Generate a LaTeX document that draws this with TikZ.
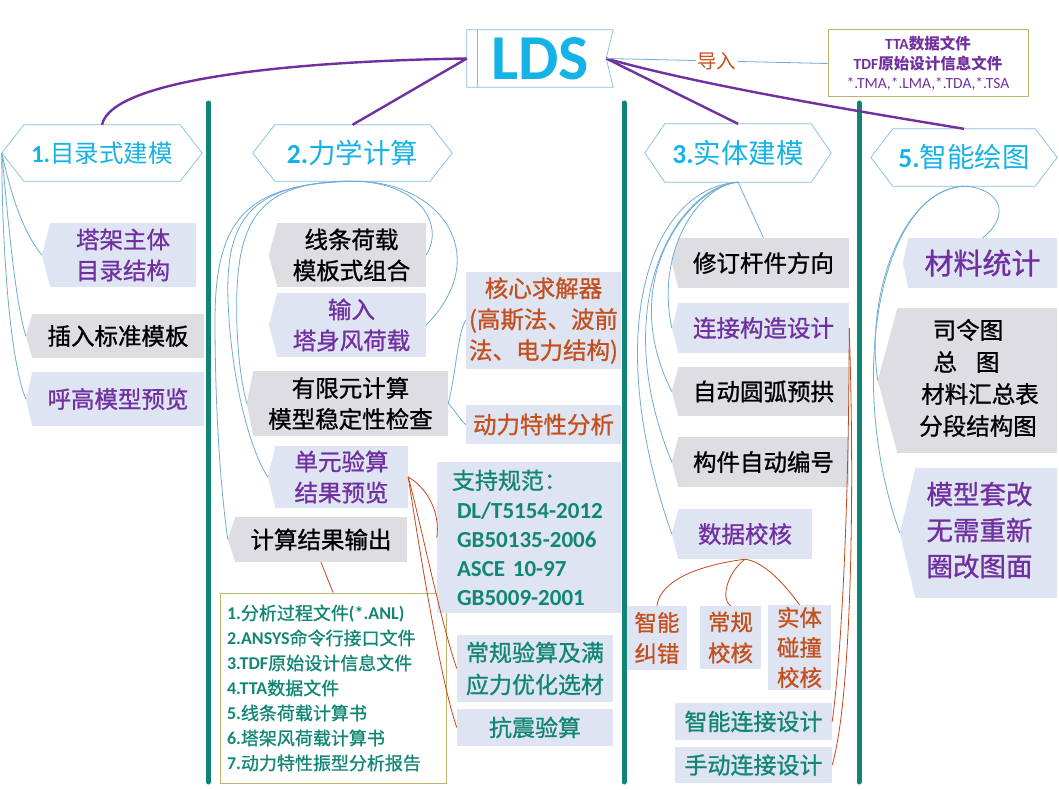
\documentclass[tikz,border=0pt]{standalone}
\usepackage{fontspec}
\setmainfont{Noto Sans CJK SC}
\newfontfamily\cjkb{Noto Sans CJK SC}[FakeBold=1]
\newfontfamily\lat{Carlito}
\usetikzlibrary{calc}
\definecolor{clav}{RGB}{222,228,242}
\definecolor{cgry}{RGB}{221,221,226}
\definecolor{cpur}{RGB}{112,48,160}
\definecolor{ccyan}{RGB}{20,178,230}
\definecolor{cteal}{RGB}{18,134,118}
\definecolor{corg}{RGB}{196,80,30}
\definecolor{cbar}{RGB}{16,132,118}
\definecolor{cconn}{RGB}{110,172,214}
\definecolor{chex}{RGB}{130,190,225}
\definecolor{coli}{RGB}{190,178,110}
\definecolor{cred}{RGB}{196,72,30}
\newcommand\latb[1]{{\lat\bfseries #1}}
\newcommand\notchfill[3]{\fill[#3] ($(#1.north west)+(0.6,0)$) -- ($(#1.west)+(-#2,0)$) -- ($(#1.south west)+(0.6,0)$) -- cycle; \coordinate (#1t) at ($(#1.west)+(-#2,0)$);}
\newcommand\hexo[2]{\draw[hexline] (#1.west) -- ($(#1.north west)+(#2,0)$) -- ($(#1.north east)+(-#2,0)$) -- (#1.east) -- ($(#1.south east)+(-#2,0)$) -- ($(#1.south west)+(#2,0)$) -- cycle;}
\tikzset{
 bl/.style={fill=clav, inner sep=0pt, align=center},
 bg/.style={fill=cgry, inner sep=0pt, align=center, text=black},
 tpur/.style={text=cpur}, tteal/.style={text=cteal}, torg/.style={text=corg},
 f23/.style={font=\cjkb\fontsize{23.5}{31}\selectfont},
 hexline/.style={draw=chex, line width=0.7pt},
 hexnode/.style={inner sep=0pt, text=ccyan},
 conn/.style={draw=cconn, line width=0.8pt},
 rconn/.style={draw=cred, line width=0.8pt},
 pconn/.style={draw=cpur, line width=2.4pt},
 sepbar/.style={draw=cbar, line width=5pt, line cap=round},
 wh/.style 2 args={minimum width=#1, minimum height=#2}
}
\begin{document}
\begin{tikzpicture}[x=1pt,y=-1pt]
\useasboundingbox[fill=white] (0,0) rectangle (1059,789);

% separator bars
\draw[sepbar] (208.5,103) -- (208.5,782);
\draw[sepbar] (624,103) -- (624,782);
\draw[sepbar] (859,103) -- (859,782);

% LDS
\node[inner sep=0pt, wh={146}{57}, text=ccyan, font=\lat\bfseries\fontsize{64}{64}\selectfont] (lds) at (540,58.5) {LDS};
\draw[hexline] (lds.north west) -- (lds.north east) -- ($(lds.east)+(-7,0)$) -- (lds.south east) -- (lds.south west) -- cycle;
\draw[hexline] ($(lds.north west)+(11,0)$) -- ($(lds.south west)+(11,0)$);
\coordinate (ldsr) at ($(lds.east)+(-7,0)$);

% TTA box
\node[draw=coli, line width=1pt, fill=white, wh={200}{67}, inner sep=0pt, align=center, text=cpur, font=\fontsize{15.5}{19.5}\selectfont] (tta) at (928,63.5)
 {{\bfseries\latb{TTA}数据文件}\\{\bfseries\latb{TDF}原始设计信息文件}\\{\lat *.TMA,*.LMA,*.TDA,*.TSA}};

% headers
\node[hexnode, wh={200}{56}, font=\fontsize{24.5}{28}\selectfont] (h1) at (102,153) {\latb{1.}目录式建模};
\hexo{h1}{22}
\node[hexnode, wh={199}{56}, font=\fontsize{27.5}{30}\selectfont] (h2) at (352.5,153) {\latb{2.}力学计算};
\hexo{h2}{22}
\node[hexnode, wh={186}{58}, font=\fontsize{27.5}{30}\selectfont] (h3) at (738,153) {\latb{3.}实体建模};
\hexo{h3}{20}
\node[hexnode, wh={186}{57}, font=\fontsize{27.5}{30}\selectfont] (h5) at (964,157.5) {\latb{5.}智能绘图};
\hexo{h5}{22}

% column 1
\node[bl,tpur,f23,wh={146}{64}] (c1a) at (123,255) {塔架主体\\目录结构};
\notchfill{c1a}{8}{clav}
\node[bg,f23,wh={172}{44}] (c1b) at (118,336) {插入标准模板};
\notchfill{c1b}{6}{cgry}
\node[bl,tpur,f23,wh={172}{54}] (c1c) at (118,399) {呼高模型预览};
\notchfill{c1c}{6}{clav}

% column 2
\node[bg,f23,wh={149}{64}] (c2a) at (351.5,255) {线条荷载\\模板式组合};
\notchfill{c2a}{8}{cgry}
\node[bl,tpur,f23,wh={149}{64}] (c2b) at (351.5,325) {输入\\塔身风荷载};
\notchfill{c2b}{8}{clav}
\node[bg,f23,wh={195}{65}] (c2c) at (350.5,403.5) {有限元计算\\模型稳定性检查};
\notchfill{c2c}{6}{cgry}
\node[bl,tpur,f23,wh={133}{62}] (c2d) at (341.5,477) {单元验算\\结果预览};
\notchfill{c2d}{7}{clav}
\node[bg,f23,wh={172}{45}] (c2e) at (321,539.5) {计算结果输出};
\notchfill{c2e}{7}{cgry}
\node[draw=coli, line width=1pt, fill=white, wh={226}{190}, inner sep=0pt, text width=212pt, align=left, text=cteal, font=\cjkb\fontsize{18}{25}\selectfont] (out) at (333,688)
 {\latb{1.}分析过程文件\latb{(*.ANL)}\\\latb{2.ANSYS}命令行接口文件\\\latb{3.TDF}原始设计信息文件\\\latb{4.TTA}数据文件\\\latb{5.}线条荷载计算书\\\latb{6.}塔架风荷载计算书\\\latb{7.}动力特性振型分析报告};
\node[bl,torg,f23,wh={155}{97}] (solver) at (543.5,320.5) {核心求解器\\(高斯法、波前\\法、电力结构)};
\node[bl,torg,f23,wh={155}{39}] (dyn) at (543.5,424.5) {动力特性分析};
\node[bl,tteal,wh={184}{151}, text width=160pt, align=left, font=\cjkb\fontsize{23}{29}\selectfont] (std) at (529,537.5)
 {\hspace*{3pt}支持规范：\\\hspace*{8pt}\latb{DL/T5154-2012}\\\hspace*{8pt}\latb{GB50135-2006}\\\hspace*{8pt}\latb{ASCE 10-97}\\\hspace*{8pt}\latb{GB5009-2001}};
\node[bl,tteal,wh={156}{67},font=\cjkb\fontsize{23}{32}\selectfont] (chk) at (535,668.5) {常规验算及满\\应力优化选材};
\node[bl,tteal,wh={156}{37},font=\cjkb\fontsize{23}{30}\selectfont] (eq) at (535,727.5) {抗震验算};

% column 3
\node[bg,f23,wh={171}{50}] (c3a) at (763.5,263) {修订杆件方向};
\notchfill{c3a}{6}{cgry}
\node[bl,tpur,f23,wh={171}{50}] (c3b) at (763.5,328) {连接构造设计};
\notchfill{c3b}{6}{clav}
\node[bg,f23,wh={171}{49}] (c3c) at (763.5,391.5) {自动圆弧预拱};
\notchfill{c3c}{6}{cgry}
\node[bg,f23,wh={171}{50}] (c3d) at (763.5,462) {构件自动编号};
\notchfill{c3d}{6}{cgry}
\node[bl,tpur,f23,wh={134}{50}] (c3e) at (745,534) {数据校核};
\notchfill{c3e}{6}{clav}
\node[bl,torg,wh={60}{64},font=\cjkb\fontsize{22.5}{31}\selectfont] (e1) at (657,638) {智能\\纠错};
\node[bl,torg,wh={61}{63},font=\cjkb\fontsize{22.5}{31}\selectfont] (e2) at (730.5,637.5) {常规\\校核};
\node[bl,torg,wh={63}{85},font=\cjkb\fontsize{22.5}{30}\selectfont] (e3) at (799.5,647.5) {实体\\碰撞\\校核};
\node[bl,tteal,wh={157}{37},font=\cjkb\fontsize{23}{30}\selectfont] (cd1) at (753.5,721.5) {智能连接设计};
\node[bl,tteal,wh={157}{36},font=\cjkb\fontsize{23}{30}\selectfont] (cd2) at (753.5,765) {手动连接设计};

% column 5
\node[bl,tpur,wh={149}{50},font=\cjkb\fontsize{29}{32}\selectfont] (c5a) at (982.5,263) {材料统计};
\notchfill{c5a}{5}{clav}
\node[bg,wh={160}{145},font=\cjkb\fontsize{23.5}{32}\selectfont] (c5b) at (977,380.5)
 {\begin{tabular}{@{}c@{}}司令图\hspace*{18pt}\\总\hspace{19pt}图\hspace*{21pt}\\材料汇总表\hspace*{-6pt}\\分段结构图\hspace*{-2pt}\end{tabular}};
\notchfill{c5b}{19}{cgry}
\node[bl,tpur,wh={142}{130},font=\cjkb\fontsize{26.5}{36}\selectfont] (c5c) at (986,533)
 {\begin{tabular}{@{}c@{}}模型套改\\无需重新\\圈改图面\end{tabular}\hspace*{13pt}};
\notchfill{c5c}{15}{clav}

% purple main connectors
\draw[pconn] (lds.west) .. controls (300,61) and (112,78) .. (h1.north);
\draw[pconn] (lds.west) -- (h2.north);
\draw[pconn] (ldsr) -- (h3.north);
\draw[pconn] (ldsr) .. controls (700,85) and (850,110) .. (h5.north);

% import
\draw[conn] (ldsr) -- node[fill=white, inner sep=1.5pt, text=corg, font=\fontsize{19.5}{20}\selectfont] (imp) {导入} (tta.west);

% column 1 connectors
\draw[conn] (h1.west) .. controls (12,200) and (25,235) .. (c1at);
\draw[conn] (h1.west) .. controls (8,220) and (15,300) .. (c1bt);
\draw[conn] (h1.west) .. controls (2,250) and (10,360) .. (c1ct);

% column 2 connectors
\draw[conn] (h2.south) .. controls (420,182) and (445,225) .. (c2a.east);
\draw[conn] (h2.south) .. controls (440,180) and (495,255) .. (c2b.east);
\draw[conn] (h2.south) .. controls (265,181) and (240,215) .. (237,290) .. controls (235,350) and (243,390) .. (c2ct);
\draw[conn] (h2.south) .. controls (255,183) and (225,215) .. (228,300) .. controls (231,380) and (250,450) .. (c2dt);
\draw[conn] (h2.south) .. controls (250,184) and (215,215) .. (215,320) .. controls (215,420) and (222,500) .. (c2et);
\draw[conn] (c2c.east) .. controls (455,380) and (458,330) .. (solver.west);
\draw[conn] (c2c.east) .. controls (455,410) and (460,420) .. (dyn.west);

% column 3 connectors
\draw[conn] (h3.south) -- (c3a.north);
\draw[conn] (h3.south) .. controls (700,185) and (655,250) .. (c3bt);
\draw[conn] (h3.south) .. controls (690,186) and (615,280) .. (c3ct);
\draw[conn] (h3.south) .. controls (680,186) and (605,300) .. (c3dt);
\draw[conn] (h3.south) .. controls (650,188) and (600,330) .. (c3et);

% column 5 connectors
\draw[conn] (h5.south) .. controls (1000,188) and (1012,215) .. (c5a.north);
\draw[conn] (h5.south) .. controls (900,190) and (865,300) .. (c5bt);
\draw[conn] (h5.south) .. controls (880,190) and (845,380) .. (c5ct);

% red connectors
\draw[rconn] (c2e.south) -- (out.north);
\draw[rconn] (c2d.east) .. controls (430,490) and (440,515) .. (std.west);
\draw[rconn] (c2d.east) .. controls (420,520) and (440,620) .. (chk.west);
\draw[rconn] (c2d.east) .. controls (418,540) and (440,680) .. (eq.west);
\draw[rconn] (c3e.south) .. controls (700,565) and (660,580) .. (e1.north);
\draw[rconn] (c3e.south) .. controls (728,572) and (720,598) .. (e2.north);
\draw[rconn] (c3e.south) .. controls (765,562) and (785,585) .. (e3.north);
\draw[rconn] (c3b.east) .. controls (849,500) and (842,650) .. (cd1.east);
\draw[rconn] (c3b.east) .. controls (855,500) and (851,700) .. (cd2.east);
\end{tikzpicture}
\end{document}
